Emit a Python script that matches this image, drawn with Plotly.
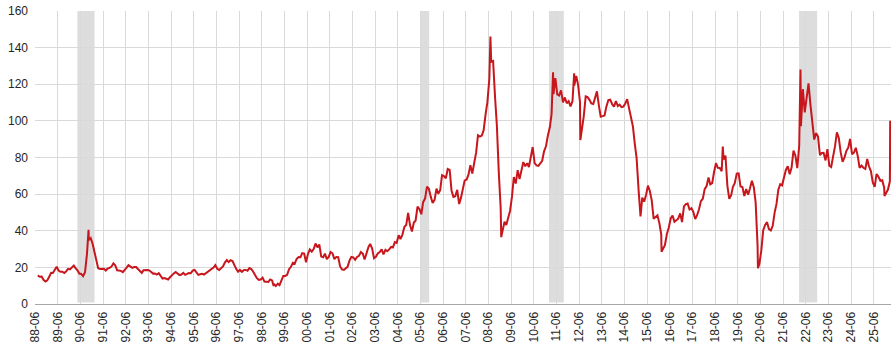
import plotly.graph_objects as go
import pandas as pd

# Monthly Brent-like price levels (USD/bbl), mid-month
y1988 = [15.6, 14.9, 15.0, 13.2, 12.3, 12.9, 14.9]  # Jun-Dec
y1989 = [17.0, 16.9, 18.6, 20.3, 18.3, 17.6, 17.6, 16.9, 17.8, 19.2, 18.9, 20.0]
y1990 = [21.0, 19.6, 18.4, 16.6, 16.4, 15.2, 17.3, 27.2, 34.9, 36.0, 32.9, 27.8]
y1991 = [23.6, 19.5, 19.1, 19.2, 19.2, 18.3, 19.4, 19.7, 20.4, 22.2, 21.1, 18.4]
y1992 = [18.2, 18.1, 17.4, 18.9, 19.9, 21.2, 20.2, 19.7, 20.2, 20.2, 19.1, 18.2]
y1993 = [17.0, 18.4, 18.6, 18.6, 18.4, 17.6, 16.6, 16.7, 16.1, 16.8, 15.5, 13.9]
y1994 = [14.2, 13.6, 13.4, 14.6, 16.0, 16.7, 17.5, 16.7, 15.8, 16.1, 17.0, 15.9]
y1995 = [16.6, 16.9, 16.8, 18.2, 18.6, 17.4, 15.9, 16.2, 16.5, 16.1, 16.8, 17.9]
y1996 = [18.6, 18.9, 19.9, 21.2, 19.2, 18.6, 19.6, 20.5, 22.6, 24.0, 22.9, 23.9]
y1997 = [23.5, 20.9, 19.2, 17.6, 18.6, 17.6, 18.5, 18.6, 18.2, 19.6, 19.1, 17.6]
y1998 = [15.4, 14.1, 13.2, 13.4, 14.4, 12.2, 12.1, 12.0, 13.4, 12.9, 11.0, 9.8]
y1999 = [11.1, 10.3, 12.5, 15.3, 15.3, 15.9, 19.0, 20.3, 22.5, 22.0, 24.6, 25.6]
y2000 = [25.5, 27.8, 27.5, 22.8, 27.3, 29.8, 28.6, 30.0, 33.0, 30.9, 32.5, 25.9]
y2001 = [25.5, 27.5, 24.5, 25.7, 28.4, 27.7, 24.5, 25.7, 25.6, 20.5, 18.9, 18.6]
y2002 = [19.5, 20.3, 23.7, 25.7, 25.4, 24.1, 25.7, 26.3, 28.4, 27.5, 24.3, 28.3]
y2003 = [31.2, 32.8, 30.3, 25.0, 25.8, 27.6, 28.4, 29.8, 27.1, 29.6, 28.8, 29.8]
y2004 = [31.2, 30.9, 33.8, 33.4, 37.6, 35.5, 37.9, 42.1, 43.1, 49.8, 43.1, 39.6]
y2005 = [44.5, 45.5, 53.1, 51.9, 49.0, 55.6, 57.6, 64.1, 62.9, 58.5, 55.2, 56.9]
y2006 = [63.0, 60.2, 62.1, 70.3, 69.8, 68.6, 73.7, 73.2, 62.0, 58.5, 58.9, 62.3]
y2007 = [54.6, 57.8, 62.1, 67.5, 67.9, 70.6, 75.8, 71.2, 77.0, 82.5, 92.1, 91.4]
y2008 = [92.0, 94.8, 103.3, 110.2, 122.8, 132.3, 132.7, 113.2, 97.2, 71.6, 52.5, 40.4]
y2009 = [44.9, 43.2, 46.8, 50.8, 58.6, 69.3, 65.8, 73.1, 68.2, 73.9, 77.5, 75.2]
y2010 = [76.9, 74.8, 79.9, 85.7, 76.9, 75.7, 75.4, 77.1, 78.2, 83.5, 86.1, 92.0]
y2011 = [96.5, 103.7, 114.6, 123.3, 114.5, 113.9, 116.7, 110.1, 112.8, 109.6, 110.8, 107.9]
y2012 = [110.7, 119.3, 124.5, 119.8, 110.3, 95.2, 102.6, 113.4, 113.0, 111.5, 109.5, 109.2]
y2013 = [112.3, 116.1, 108.5, 102.3, 102.6, 102.9, 107.9, 111.3, 111.6, 109.1, 107.8, 110.8]
y2014 = [108.1, 108.9, 107.5, 107.8, 109.5, 111.9, 106.8, 101.6, 97.1, 87.4, 79.4, 62.3]
y2015 = [47.8, 58.1, 55.9, 59.5, 64.6, 61.7, 56.6, 46.5, 47.6, 48.4, 44.3, 38.0]
y2016 = [30.7, 32.2, 38.2, 41.6, 46.7, 48.3, 44.9, 45.8, 46.6, 49.5, 44.7, 53.3]
y2017 = [54.6, 54.9, 51.6, 52.3, 50.3, 46.4, 48.5, 51.7, 56.2, 57.5, 62.7, 64.4]
y2018 = [69.1, 65.3, 66.0, 72.1, 76.9, 74.4, 74.3, 72.5, 78.9, 81.0, 64.8, 57.4]
y2019 = [59.4, 64.0, 66.1, 71.2, 71.3, 64.2, 63.9, 59.0, 62.8, 59.7, 63.2, 67.3]
y2020 = [63.6, 55.5, 32.0, 22.0, 29.4, 40.3, 43.2, 44.7, 40.9, 40.2, 42.7, 49.9]
y2021 = [54.8, 62.3, 65.4, 64.8, 68.5, 73.2, 75.2, 70.8, 74.5, 83.7, 81.1, 74.2]
y2022 = [86.5, 97.1, 117.3, 104.6, 113.3, 120.5, 108.9, 100.5, 89.8, 93.3, 91.4, 81.3]
y2023 = [82.5, 82.6, 78.4, 84.6, 75.5, 74.8, 80.1, 86.2, 93.7, 90.6, 82.9, 77.6]
y2024 = [80.1, 83.5, 85.4, 90.1, 81.8, 82.6, 85.3, 80.9, 74.3, 75.6, 74.4, 73.8]
y2025 = [79.2, 75.2, 72.6, 66.5, 64.0, 71.0, 69.5, 67.3, 67.6, 63.5, 61.0, 62.5]
y2026 = [67.0, 72.0]  # Jan-Feb

# Visible daily extremes
ext_dates = ["1990-10-11", "1998-12-10", "2008-07-03", "2008-12-24", "2011-04-08",
             "2012-03-13", "2012-06-21", "2016-01-20", "2018-10-03", "2020-04-21",
             "2022-03-08", "2025-11-20", "2026-02-20"]
ext_values = [40.5, 9.8, 146.0, 36.5, 126.5, 126.0, 89.5, 28.5, 86.0, 19.5,
              128.0, 59.0, 100.0]

# Shaded periods
band_starts = ["1990-04-13", "2005-06-01", "2011-02-01", "2022-02-12"]
band_ends = ["1991-01-15", "2005-10-20", "2011-09-28", "2022-12-01"]

# Tick labels
tick_years = list(range(1988, 2026))
tick_vals = [f"{y}-06-01" for y in tick_years]
tick_text = [f"{y % 100:02d}-06" for y in tick_years]

monthly = (y1988 + y1989 + y1990 + y1991 + y1992 + y1993 + y1994 + y1995 + y1996 +
           y1997 + y1998 + y1999 + y2000 + y2001 + y2002 + y2003 + y2004 + y2005 +
           y2006 + y2007 + y2008 + y2009 + y2010 + y2011 + y2012 + y2013 + y2014 +
           y2015 + y2016 + y2017 + y2018 + y2019 + y2020 + y2021 + y2022 + y2023 +
           y2024 + y2025 + y2026)
m_dates = pd.date_range("1988-06-15", periods=len(monthly), freq="MS") + pd.Timedelta(days=14)

s = pd.concat([
    pd.Series(monthly, index=m_dates),
    pd.Series(ext_values, index=pd.to_datetime(ext_dates)),
]).sort_index()

fig = go.Figure()
fig.add_trace(go.Scatter(x=s.index, y=s.values, mode="lines",
                         line=dict(color="#c8161d", width=2),
                         hoverinfo="skip", showlegend=False))

for a, b in zip(band_starts, band_ends):
    fig.add_shape(type="rect", xref="x", yref="y", x0=a, x1=b, y0=0.8, y1=160,
                  fillcolor="#d9d9d9", opacity=0.9, line=dict(width=0), layer="below")

fig.update_layout(
    width=895, height=351,
    margin=dict(l=35, r=4, t=11, b=47),
    paper_bgcolor="white", plot_bgcolor="white",
    font=dict(family="Liberation Sans, Arial, sans-serif", size=12, color="#262626"),
    xaxis=dict(type="date", range=["1988-05-31", "2026-03-05"],
               tickmode="array", tickvals=tick_vals, ticktext=tick_text,
               tickangle=-90, showgrid=True, gridcolor="#d9d9d9", gridwidth=1,
               showline=True, linecolor="#a6a6a6", linewidth=1,
               ticks="", zeroline=False, ticklabelstandoff=2),
    yaxis=dict(range=[0, 160], tickvals=list(range(0, 161, 20)),
               showgrid=True, gridcolor="#d9d9d9", gridwidth=1,
               showline=False, zeroline=False, ticks="", ticklabelstandoff=6),
)

fig.write_html("out.html")
